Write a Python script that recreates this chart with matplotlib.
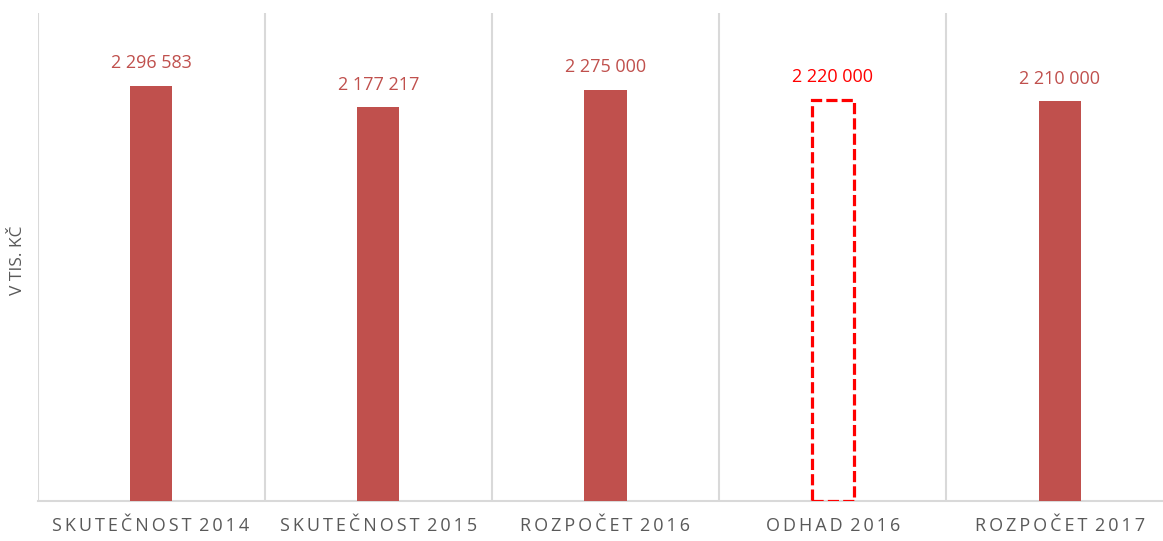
import matplotlib.pyplot as plt

plt.rcParams['font.family'] = ['Open Sans', 'DejaVu Sans']

categories = ['SKUTEČNOST 2014', 'SKUTEČNOST 2015', 'ROZPOČET 2016', 'ODHAD 2016', 'ROZPOČET 2017']
values = [2296583, 2177217, 2275000, 2220000, 2210000]
labels = ['2 296 583', '2 177 217', '2 275 000', '2 220 000', '2 210 000']
estimate_idx = 3

bar_color = '#C0504D'
grid_color = '#D9D9D9'
W, H = 1163, 541

fig = plt.figure(figsize=(W / 100, H / 100), dpi=100)
left, bottom, top = 37.5, 500.5, 13
cat_w = 227.2
ax = fig.add_axes([left / W, (H - bottom) / H, 5 * cat_w / W, (bottom - top) / H])

x = list(range(len(categories)))
bw = 0.185
for i, v in enumerate(values):
    if i == estimate_idx:
        ax.bar(i, v, width=bw, facecolor='none', edgecolor='#FF0000',
               linewidth=2.3, linestyle=(0, (3.5, 1.3)), zorder=3)
        col = '#FF0000'
    else:
        ax.bar(i, v, width=bw, color=bar_color, zorder=3)
        col = bar_color
    ax.annotate(labels[i], (i, v), xytext=(0, 10), textcoords='offset points',
                ha='center', va='bottom', fontsize=13, color=col)

ax.set_xlim(-0.5, 4.5)
ax.set_ylim(0, 2700000)

for b in [-0.5, 0.5, 1.5, 2.5, 3.5, 4.5]:
    ax.axvline(b, color=grid_color, linewidth=1.5, zorder=1)

for s in ['top', 'right', 'left']:
    ax.spines[s].set_visible(False)
ax.spines['bottom'].set_color(grid_color)
ax.spines['bottom'].set_linewidth(1.5)

# letter-spaced category labels
spaced = [' \u2009'.join('\u2009'.join(w) for w in c.split()) for c in categories]
ax.set_xticks(x)
ax.set_xticklabels(spaced, fontsize=13, color='#595959')
ax.tick_params(axis='x', length=0, pad=12)
ax.set_yticks([])

fig.text(18 / W, 1 - 260 / H, 'V TIS. KČ', rotation=90, ha='center', va='center',
         fontsize=12.5, color='#595959')

fig.savefig('out.png', dpi=100)
